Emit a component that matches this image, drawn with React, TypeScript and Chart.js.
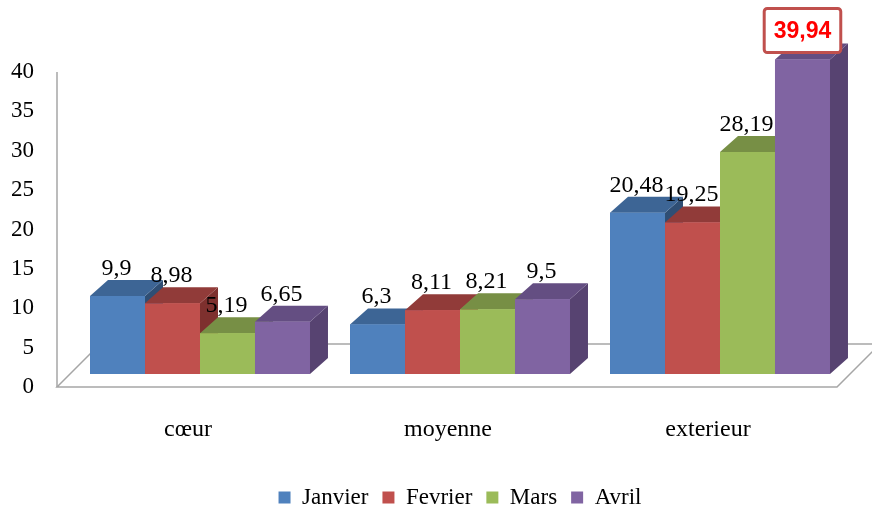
import React, { useEffect, useRef } from 'react';
import { Chart, registerables } from 'chart.js';

Chart.register(...registerables);

const categories = ['cœur', 'moyenne', 'exterieur'];
const seriesNames = ['Janvier', 'Fevrier', 'Mars', 'Avril'];
const janvier = [9.9, 6.3, 20.48];
const fevrier = [8.98, 8.11, 19.25];
const mars = [5.19, 8.21, 28.19];
const avril = [6.65, 9.5, 39.94];
const seriesValues = [janvier, fevrier, mars, avril];
const yMin = 0;
const yMax = 40;
const yStep = 5;

const frontColors = ['#4F81BD', '#C0504D', '#9BBB59', '#8064A2'];
const topColors = ['#3D6595', '#913B39', '#778F45', '#644E82'];
const sideColors = ['#2F4E74', '#7E302E', '#62773A', '#574371'];

const DX = 18;
const DY = 16;
const SERIF = '"Liberation Serif", "Times New Roman", serif';
const SANS = '"Liberation Sans", Arial, sans-serif';

const fmt = (v: number) => String(v).replace('.', ',');

const floorPlugin = {
  id: 'floor3d',
  beforeDatasetsDraw(chart: any) {
    const { ctx, chartArea } = chart;
    const yScale = chart.scales.y;
    const fx = chartArea.left - 13;
    const fy = chartArea.bottom + 13;
    const rx = chartArea.right - 13;
    const depth = 43;
    ctx.save();
    ctx.strokeStyle = '#A6A6A6';
    ctx.lineWidth = 1.5;
    ctx.beginPath();
    ctx.moveTo(fx, fy);
    ctx.lineTo(rx, fy);
    ctx.lineTo(rx + depth, fy - depth);
    ctx.lineTo(fx + depth, fy - depth);
    ctx.closePath();
    ctx.stroke();
    ctx.beginPath();
    ctx.moveTo(fx, yScale.getPixelForValue(yMax) + 13);
    ctx.lineTo(fx, fy);
    ctx.stroke();
    ctx.restore();
  },
};

const bars3dPlugin = {
  id: 'bars3d',
  afterDatasetsDraw(chart: any) {
    const { ctx } = chart;
    const n = chart.data.labels.length;
    const metas = chart.data.datasets.map((_: any, i: number) => chart.getDatasetMeta(i));
    ctx.save();
    for (let j = 0; j < n; j++) {
      for (let d = 0; d < metas.length; d++) {
        const el = metas[d].data[j];
        const { x, y, base, width } = el.getProps(['x', 'y', 'base', 'width'], true);
        const l = x - width / 2;
        const r = x + width / 2;
        ctx.fillStyle = sideColors[d];
        ctx.beginPath();
        ctx.moveTo(r, y);
        ctx.lineTo(r + DX, y - DY);
        ctx.lineTo(r + DX, base - DY);
        ctx.lineTo(r, base);
        ctx.closePath();
        ctx.fill();
        ctx.fillStyle = topColors[d];
        ctx.beginPath();
        ctx.moveTo(l, y);
        ctx.lineTo(r, y);
        ctx.lineTo(r + DX, y - DY);
        ctx.lineTo(l + DX, y - DY);
        ctx.closePath();
        ctx.fill();
        ctx.fillStyle = frontColors[d];
        ctx.fillRect(l, y, width, base - y);
      }
    }
    let maxV = -Infinity;
    let maxD = -1;
    let maxJ = -1;
    seriesValues.forEach((arr, d) =>
      arr.forEach((v, j) => {
        if (v > maxV) {
          maxV = v;
          maxD = d;
          maxJ = j;
        }
      })
    );
    ctx.textAlign = 'center';
    for (let d = 0; d < metas.length; d++) {
      for (let j = 0; j < n; j++) {
        const el = metas[d].data[j];
        const { x, y } = el.getProps(['x', 'y'], true);
        const v = chart.data.datasets[d].data[j];
        if (d === maxD && j === maxJ) {
          ctx.font = `bold 23px ${SANS}`;
          const txt = fmt(v);
          const tw = ctx.measureText(txt).width;
          const bw = tw + 19;
          const bh = 44;
          const cx = x;
          const cy = y - DY - 13;
          ctx.beginPath();
          ctx.roundRect(cx - bw / 2, cy - bh / 2, bw, bh, 3);
          ctx.fillStyle = '#FFFFFF';
          ctx.fill();
          ctx.lineWidth = 3;
          ctx.strokeStyle = '#C0504D';
          ctx.stroke();
          ctx.fillStyle = '#FF0000';
          ctx.textBaseline = 'middle';
          ctx.fillText(txt, cx, cy + 1);
        } else {
          ctx.font = `24px ${SERIF}`;
          ctx.fillStyle = '#000000';
          ctx.textBaseline = 'alphabetic';
          ctx.fillText(fmt(v), x - 1, y - DY - 5);
        }
      }
    }
    ctx.restore();
  },
};

export default function App() {
  const canvasRef = useRef<HTMLCanvasElement | null>(null);

  useEffect(() => {
    if (!canvasRef.current) return;
    const chart = new Chart(canvasRef.current, {
      type: 'bar',
      data: {
        labels: categories,
        datasets: seriesNames.map((name, i) => ({
          label: name,
          data: seriesValues[i],
          backgroundColor: frontColors[i],
          borderWidth: 0,
          barPercentage: 1,
          categoryPercentage: 0.846,
        })),
      },
      options: {
        animation: false,
        responsive: false,
        maintainAspectRatio: false,
        devicePixelRatio: 1,
        layout: { padding: { top: 59, left: 0, right: 22, bottom: -5 } },
        plugins: {
          tooltip: { enabled: false },
          legend: {
            position: 'bottom',
            fullSize: false,
            labels: {
              boxWidth: 12,
              boxHeight: 12,
              padding: 14,
              color: '#000000',
              font: { family: SERIF, size: 23 },
            },
          },
        },
        scales: {
          x: {
            grid: { display: false, drawTicks: false },
            border: { display: false },
            ticks: {
              color: '#000000',
              font: { family: SERIF, size: 24 },
              padding: 41,
              labelOffset: -12,
            },
            afterFit: (s: any) => {
              s.height = 98;
            },
          },
          y: {
            min: yMin,
            max: yMax,
            grid: { display: false, drawTicks: false },
            border: { display: false },
            ticks: {
              stepSize: yStep,
              color: '#000000',
              font: { family: SERIF, size: 23 },
              padding: 36,
              labelOffset: 13,
            },
            afterFit: (s: any) => {
              s.width = 70;
            },
          },
        },
      },
      plugins: [floorPlugin, bars3dPlugin],
    });
    return () => chart.destroy();
  }, []);

  return (
    <div style={{ position: 'absolute', left: 0, top: 0, width: 872, height: 514 }}>
      <canvas ref={canvasRef} width={872} height={514} />
    </div>
  );
}
